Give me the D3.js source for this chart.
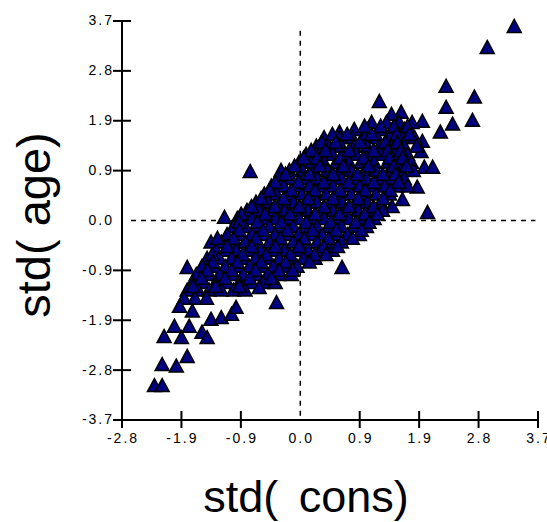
<!DOCTYPE html>
<html>
<head>
<meta charset="utf-8">
<script src="https://cdn.jsdelivr.net/npm/d3@7/dist/d3.min.js"></script>
<style>
  html, body { margin: 0; padding: 0; background: #fff; }
  svg { display: block; }
</style>
</head>
<body>
<svg id="chart" width="547" height="522"></svg>
<script>
const xTickValues = [-2.775, -1.85, -0.925, 0, 0.925, 1.85, 2.775, 3.7];
const xTickLabels = ["-2.8", "-1.9", "-0.9", "0.0", "0.9", "1.9", "2.8", "3.7"];
const yTickValues = [-3.7, -2.775, -1.85, -0.925, 0, 0.925, 1.85, 2.775, 3.7];
const yTickLabels = ["-3.7", "-2.8", "-1.9", "-0.9", "0.0", "0.9", "1.9", "2.8", "3.7"];
const xTitle = "std( cons)";
const yTitle = "std( age)";

// [std(cons), std(age)]
const points = [
  [3.33, 3.59], [2.91, 3.20], [2.27, 2.48], [2.71, 2.28], [2.27, 2.09], [2.37, 1.78],
  [2.68, 1.85], [2.18, 1.63], [1.23, 2.20], [1.57, 2.00], [1.90, 1.83], [1.90, 1.46],
  [1.88, 1.27], [1.93, 0.98], [2.06, 0.98], [1.82, 0.61], [1.98, 0.14], [1.59, 0.38],
  [1.43, 0.25], [-0.78, 0.90], [-0.30, 0.92],
  [1.42, 1.96],
  [1.11, 1.81], [1.34, 1.81], [1.54, 1.81], [1.74, 1.81],
  [0.84, 1.68], [1.04, 1.68], [1.23, 1.68], [1.43, 1.68], [1.62, 1.68], [0.61, 1.63],
  [0.37, 1.53], [0.61, 1.53], [0.81, 1.53], [1.00, 1.53], [1.20, 1.53], [1.39, 1.53], [1.59, 1.53], [1.78, 1.53],
  [0.25, 1.37], [0.45, 1.37], [0.64, 1.37], [0.84, 1.37], [1.04, 1.37], [1.23, 1.37], [1.42, 1.37], [1.62, 1.37], [1.81, 1.37],
  [0.09, 1.22], [0.30, 1.22], [0.50, 1.22], [0.69, 1.22], [0.87, 1.22], [1.07, 1.22], [1.26, 1.22], [1.46, 1.22], [1.67, 1.22],
  [-0.02, 1.07], [0.17, 1.07], [0.37, 1.07], [0.56, 1.07], [0.76, 1.07], [0.95, 1.07], [1.15, 1.07], [1.36, 1.07], [1.54, 1.07], [1.73, 1.07],
  [-0.17, 0.92], [0.03, 0.92], [0.22, 0.92], [0.42, 0.92], [0.61, 0.92], [0.79, 0.92], [1.00, 0.92], [1.18, 0.92], [1.39, 0.92], [1.57, 0.92], [1.76, 0.92],
  [-0.33, 0.77], [-0.14, 0.77], [0.06, 0.77], [0.26, 0.77], [0.45, 0.77], [0.64, 0.77], [0.84, 0.77], [1.03, 0.77], [1.23, 0.77], [1.42, 0.77], [1.62, 0.77],
  [-0.45, 0.63], [-0.26, 0.63], [-0.06, 0.63], [0.14, 0.63], [0.33, 0.63], [0.51, 0.63], [0.72, 0.63], [0.92, 0.63], [1.11, 0.63], [1.31, 0.63], [1.50, 0.63], [1.67, 0.63],
  [-0.56, 0.48], [-0.37, 0.48], [-0.17, 0.48], [0.02, 0.48], [0.22, 0.48], [0.40, 0.48], [0.61, 0.48], [0.79, 0.48], [1.00, 0.48], [1.18, 0.48], [1.39, 0.48],
  [-0.69, 0.33], [-0.50, 0.33], [-0.31, 0.33], [-0.11, 0.33], [0.08, 0.33], [0.26, 0.33], [0.47, 0.33], [0.65, 0.33], [0.86, 0.33], [1.04, 0.33], [1.25, 0.33],
  [-0.83, 0.18], [-0.64, 0.18], [-0.45, 0.18], [-0.25, 0.18], [-0.06, 0.18], [0.12, 0.18], [0.33, 0.18], [0.51, 0.18], [0.70, 0.18], [0.90, 0.18], [1.09, 0.18], [1.28, 0.18],
  [-1.18, 0.05], [-0.98, 0.03], [-0.76, 0.03], [-0.58, 0.03], [-0.39, 0.03], [-0.20, 0.03], [-0.02, 0.03], [0.17, 0.03], [0.37, 0.03], [0.56, 0.03], [0.76, 0.03], [0.95, 0.03], [1.15, 0.03],
  [-1.04, -0.12], [-0.86, -0.12], [-0.67, -0.12], [-0.48, -0.12], [-0.30, -0.12], [-0.11, -0.12], [0.08, -0.12], [0.26, -0.12], [0.45, -0.12], [0.64, -0.12], [0.84, -0.12], [1.03, -0.12],
  [-1.14, -0.27], [-0.95, -0.27], [-0.76, -0.27], [-0.59, -0.27], [-0.40, -0.27], [-0.22, -0.27], [-0.03, -0.27], [0.16, -0.27], [0.34, -0.27], [0.53, -0.27], [0.73, -0.27], [0.92, -0.27],
  [-1.39, -0.41], [-1.23, -0.41], [-1.04, -0.41], [-0.86, -0.41], [-0.67, -0.41], [-0.48, -0.41], [-0.30, -0.41], [-0.11, -0.41], [0.08, -0.41], [0.26, -0.41], [0.45, -0.41], [0.64, -0.41],
  [-1.31, -0.56], [-1.15, -0.56], [-1.00, -0.56], [-0.81, -0.56], [-0.62, -0.56], [-0.44, -0.56], [-0.25, -0.56], [-0.06, -0.56], [0.12, -0.56], [0.31, -0.56], [0.50, -0.56],
  [-1.45, -0.71], [-1.26, -0.71], [-1.07, -0.71], [-0.89, -0.71], [-0.70, -0.71], [-0.51, -0.71], [-0.33, -0.71], [-0.14, -0.71], [0.05, -0.71], [0.23, -0.71],
  [-1.53, -0.86], [-1.36, -0.86], [-1.17, -0.86], [-0.98, -0.86], [-0.79, -0.86], [-0.61, -0.86], [-0.42, -0.86], [-0.23, -0.86], [-0.05, -0.86],
  [-1.76, -0.88], [0.65, -0.88],
  [-1.62, -1.01], [-1.43, -1.01], [-1.26, -1.01], [-1.07, -1.01], [-0.89, -1.01], [-0.70, -1.01], [-0.51, -1.01], [-0.33, -1.01], [-0.14, -1.01],
  [-1.68, -1.16], [-1.50, -1.16], [-1.32, -1.16], [-1.14, -1.16], [-0.95, -1.16], [-0.76, -1.16], [-0.58, -1.16], [-0.39, -1.16],
  [-1.76, -1.30], [-1.59, -1.30], [-1.42, -1.30], [-1.23, -1.30], [-1.04, -1.30], [-0.86, -1.30], [-0.64, -1.25],
  [-1.81, -1.45], [-1.64, -1.45], [-1.46, -1.45],
  [-0.37, -1.53],
  [-1.88, -1.60], [-1.68, -1.69],
  [-1.39, -1.84], [-1.23, -1.81], [-1.07, -1.75], [-1.00, -1.62],
  [-1.96, -1.97], [-1.73, -1.97], [-2.12, -2.16], [-1.85, -2.18], [-1.53, -2.08], [-1.45, -2.18],
  [-2.15, -2.68], [-1.93, -2.71], [-1.76, -2.53], [-2.27, -3.07], [-2.15, -3.07],
  // points lying between the rows above
  [1.00, 1.74], [1.25, 1.74], [1.46, 1.74], [1.67, 1.74],
  [0.50, 1.59], [0.73, 1.59], [1.11, 1.59], [1.50, 1.59], [1.70, 1.59],
  [0.33, 1.44], [0.55, 1.44], [0.93, 1.44], [1.32, 1.44], [1.51, 1.44],
  [0.17, 1.29], [0.39, 1.29], [0.76, 1.29], [1.14, 1.29], [1.36, 1.29], [1.56, 1.29],
  [0.05, 1.15], [0.26, 1.15], [0.62, 1.15], [0.98, 1.15], [1.39, 1.15], [1.59, 1.15],
  [-0.09, 1.00], [0.30, 1.00], [0.67, 1.00], [1.06, 1.00], [1.45, 1.00], [1.65, 1.00],
  [-0.23, 0.85], [0.14, 0.85], [0.51, 0.85], [0.89, 0.85], [1.28, 0.85], [1.48, 0.85],
  [-0.39, 0.70], [-0.03, 0.70], [0.36, 0.70], [0.75, 0.70], [1.14, 0.70], [1.53, 0.70],
  [-0.48, 0.55], [-0.14, 0.55], [0.23, 0.55], [0.62, 0.55], [1.01, 0.55], [1.40, 0.55],
  [-0.61, 0.40], [-0.26, 0.40], [0.12, 0.40], [0.51, 0.40], [0.90, 0.40], [1.29, 0.40],
  [-0.76, 0.25], [-0.40, 0.25], [-0.02, 0.25], [0.37, 0.25], [0.76, 0.25], [1.14, 0.25],
  [-0.92, 0.11], [-0.55, 0.11], [-0.16, 0.11], [0.23, 0.11], [0.61, 0.11], [1.00, 0.11], [1.20, 0.11],
  [-0.95, -0.04], [-0.67, -0.04], [-0.30, -0.04], [0.09, -0.04], [0.47, -0.04], [0.86, -0.04], [1.07, -0.04],
  [-0.95, -0.19], [-0.58, -0.19], [-0.20, -0.19], [0.19, -0.19], [0.56, -0.19], [0.95, -0.19],
  [-1.29, -0.34], [-1.04, -0.34], [-0.69, -0.34], [-0.31, -0.34], [0.06, -0.34], [0.44, -0.34], [0.81, -0.34],
  [-1.14, -0.49], [-0.76, -0.49], [-0.39, -0.49], [-0.02, -0.49], [0.36, -0.49], [0.58, -0.49],
  [-1.37, -0.64], [-0.90, -0.64], [-0.53, -0.64], [-0.16, -0.64], [0.22, -0.64], [0.40, -0.64],
  [-1.36, -0.78], [-0.98, -0.78], [-0.61, -0.78], [-0.23, -0.78], [0.14, -0.78],
  [-1.45, -0.93], [-1.07, -0.93], [-0.70, -0.93], [-0.33, -0.93], [-0.12, -0.93],
  [-1.54, -1.08], [-1.17, -1.08], [-0.79, -1.08], [-0.45, -1.08],
  [-1.67, -1.23], [-1.32, -1.23], [-0.95, -1.23]
];

const svg = d3.select("#chart");
const font = "'Liberation Sans', Arial, Helvetica, sans-serif";

const x = d3.scaleLinear().domain([-2.775, 3.7]).range([122, 538]);
const y = d3.scaleLinear().domain([-3.7, 3.7]).range([420, 21]);

// reference lines at zero
svg.append("line")
  .attr("x1", x(0)).attr("x2", x(0))
  .attr("y1", y(3.52)).attr("y2", y(-3.7))
  .attr("stroke", "#000").attr("stroke-width", 1.5)
  .attr("stroke-dasharray", "5,5");
svg.append("line")
  .attr("x1", x(-2.775) + 9).attr("x2", x(3.66))
  .attr("y1", y(0)).attr("y2", y(0))
  .attr("stroke", "#000").attr("stroke-width", 1.5)
  .attr("stroke-dasharray", "5,5");

// points
svg.append("g")
  .selectAll("path")
  .data(points)
  .join("path")
  .attr("transform", d => `translate(${x(d[0])},${y(d[1])})`)
  .attr("d", "M0,-7.5L7,5.5L-7,5.5Z")
  .attr("fill", "#000080")
  .attr("stroke", "#000")
  .attr("stroke-width", 1.5)
  .attr("stroke-linejoin", "miter");

// x axis
const xAxis = svg.append("g")
  .attr("transform", `translate(0,${y(-3.7)})`)
  .call(d3.axisBottom(x).tickValues(xTickValues).offset(0)
    .tickFormat((d, i) => xTickLabels[i]).tickSizeOuter(0).tickSize(0).tickPadding(13));
xAxis.select(".domain").attr("stroke", "#000").attr("stroke-width", 2);
xAxis.selectAll(".tick line")
  .attr("y1", -9).attr("y2", 8)
  .attr("stroke", "#000").attr("stroke-width", 2)
  .attr("display", d => d === 0 ? "none" : null);
xAxis.selectAll(".tick text")
  .attr("font-family", font).attr("font-size", 14)
  .attr("letter-spacing", "2px").attr("dx", "1px")
  .attr("fill", "#000");

// y axis
const yAxis = svg.append("g")
  .attr("transform", `translate(${x(-2.775)},0)`)
  .call(d3.axisLeft(y).tickValues(yTickValues).offset(0)
    .tickFormat((d, i) => yTickLabels[i]).tickSizeOuter(0).tickSize(0).tickPadding(8));
yAxis.select(".domain").attr("stroke", "#000").attr("stroke-width", 2);
yAxis.selectAll(".tick line")
  .attr("x1", -9).attr("x2", 9)
  .attr("stroke", "#000").attr("stroke-width", 2)
  .attr("display", d => d === 0 ? "none" : null);
yAxis.selectAll(".tick text")
  .attr("font-family", font).attr("font-size", 14)
  .attr("letter-spacing", "2px")
  .attr("fill", "#000");

// axis titles
svg.append("text")
  .attr("x", 306).attr("y", 512)
  .attr("text-anchor", "middle")
  .attr("font-family", font).attr("font-size", 45)
  .attr("word-spacing", "8px")
  .attr("fill", "#000")
  .text(xTitle);
svg.append("text")
  .attr("transform", "translate(50,225) rotate(-90)")
  .attr("text-anchor", "middle")
  .attr("font-family", font).attr("font-size", 47)
  .attr("fill", "#000")
  .text(yTitle);
</script>
</body>
</html>
